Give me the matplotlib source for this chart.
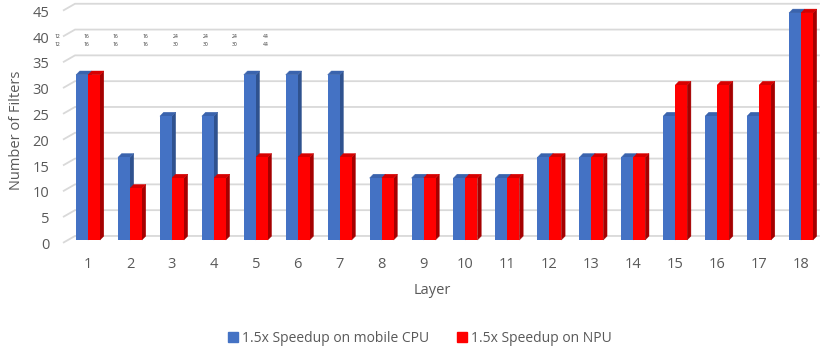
import matplotlib
matplotlib.use("Agg")
import matplotlib.pyplot as plt
import matplotlib.transforms as mtransforms
from matplotlib.patches import Polygon, Patch

plt.rcParams["font.family"] = ["Open Sans", "DejaVu Sans"]

layers = list(range(1, 19))
cpu_filters = [32, 16, 24, 24, 32, 32, 32, 12, 12, 12, 12, 16, 16, 16, 24, 24, 24, 44]
npu_filters = [32, 10, 12, 12, 16, 16, 16, 12, 12, 12, 12, 16, 16, 16, 30, 30, 30, 44]
y_ticks = [0, 5, 10, 15, 20, 25, 30, 35, 40, 45]

# stray cell values that sit on the chart in the original
note_cpu = [12, 16, 16, 16, 24, 24, 24, 44]
note_npu = [12, 16, 16, 16, 30, 30, 30, 44]

CPU_FACE, CPU_SIDE, CPU_TOP = "#4472C4", "#2F528F", "#3A63AD"
NPU_FACE, NPU_SIDE, NPU_TOP = "#FF0000", "#A50000", "#D60000"
GRID = "#D9D9D9"
TEXT = "#595959"

W, H = 830, 347
fig = plt.figure(figsize=(W / 100, H / 100), dpi=100)
ax = fig.add_axes([55 / W, (H - 245) / H, 770 / W, 245 / H])
ax.set_xlim(0.213, 18.573)
ax.set_ylim(-0.97, 46.51)
for s in ax.spines.values():
    s.set_visible(False)

bw = 0.286
dx, dy = 0.09, 0.75       # bar depth
gdy = 0.78                # back wall offset
x_stub0, x_stub1, x_end = 0.404, 0.69, 18.45

for v in y_ticks:
    ax.plot([x_stub0, x_stub1, x_end], [v - 0.55, v + gdy, v + gdy],
            color=GRID, lw=1.3, zorder=1, solid_capstyle="butt")


def bar3d(x0, h, face, side, top):
    ax.bar(x0, h, width=bw, align="edge", color=face, linewidth=0, zorder=3)
    ax.add_patch(Polygon([(x0 + bw, 0), (x0 + bw + dx, dy), (x0 + bw + dx, h + dy), (x0 + bw, h)],
                         closed=True, facecolor=side, edgecolor=side, linewidth=0.3, zorder=2.9))
    ax.add_patch(Polygon([(x0, h), (x0 + dx, h + dy), (x0 + bw + dx, h + dy), (x0 + bw, h)],
                         closed=True, facecolor=top, edgecolor=top, linewidth=0.3, zorder=2.9))


for x, c, n in zip(layers, cpu_filters, npu_filters):
    bar3d(x - bw, c, CPU_FACE, CPU_SIDE, CPU_TOP)
    bar3d(x, n, NPU_FACE, NPU_SIDE, NPU_TOP)

ax.set_xticks(layers)
ax.set_xticklabels([str(l) for l in layers])
ax.set_yticks(y_ticks)
ax.set_yticklabels([str(v) for v in y_ticks])
ax.tick_params(axis="both", length=0, labelsize=10.5, colors=TEXT)
ax.tick_params(axis="x", pad=9)
ax.tick_params(axis="y", pad=4)
off = mtransforms.ScaledTranslation(0, -2.5 / 72, fig.dpi_scale_trans)
for lab in ax.get_yticklabels():
    lab.set_transform(lab.get_transform() + off)

fig.text(16 / W, 1 - 130 / H, "Number of Filters", rotation=90, ha="center", va="center",
         fontsize=10.5, color=TEXT)
fig.text(432 / W, 1 - 290 / H, "Layer", ha="center", va="center", fontsize=10.5, color=TEXT)

xs = [57, 86, 115, 145, 176, 206, 235, 266]
for px, a, b in zip(xs, note_cpu, note_npu):
    fig.text(px / W, 1 - 36 / H, str(a), ha="center", va="center", fontsize=3.6, color="#333333")
    fig.text(px / W, 1 - 44 / H, str(b), ha="center", va="center", fontsize=3.6, color="#333333")

handles = [Patch(color=CPU_FACE, label="1.5x Speedup on mobile CPU"),
           Patch(color=NPU_FACE, label="1.5x Speedup on NPU")]
fig.legend(handles=handles, loc="center", bbox_to_anchor=(420 / W, 1 - 338 / H), ncol=2,
           frameon=False, fontsize=10, handlelength=0.7, handleheight=0.7, handletextpad=0.3,
           columnspacing=2.0, labelcolor=TEXT, borderpad=0.1)

fig.savefig("out.png", dpi=100)
